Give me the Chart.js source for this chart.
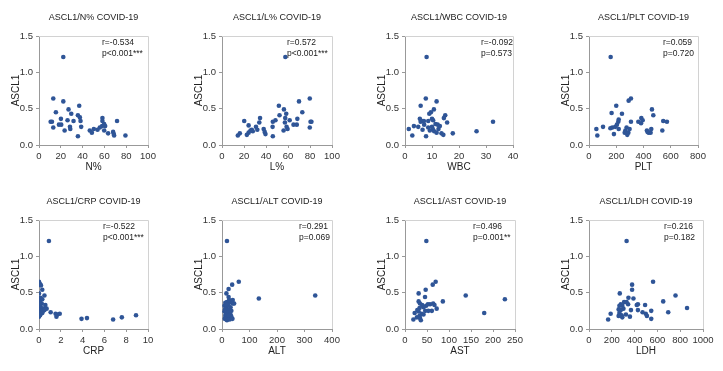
<!DOCTYPE html>
<html lang="en">
<head>
<meta charset="UTF-8">
<title>ASCL1 COVID-19 correlations</title>
<script src="https://cdn.jsdelivr.net/npm/chart.js"></script>
<style>
  body { margin: 0; background: #fff; }
  #wrap { position: relative; width: 723px; height: 371px; overflow: hidden; background: #fff; }
  #wrap canvas { position: absolute; }
</style>
</head>
<body>
<div id="wrap"></div>
<script>
// values, each point is [x, ASCL1]
const nPct = [[22.3,1.21],[13.1,0.64],[22.3,0.60],[36.9,0.54],[27.1,0.49],[15.5,0.45],[29.6,0.43],[35.7,0.41],
  [37.5,0.38],[20.1,0.36],[26.2,0.34],[31.7,0.33],[10.7,0.32],[11.9,0.32],[38.1,0.33],[18.3,0.28],[20.4,0.28],
  [28.4,0.25],[38.7,0.25],[13.1,0.24],[28.7,0.22],[23.5,0.20],[35.7,0.12],[58.2,0.37],[58.2,0.33],[71.6,0.33],
  [59.8,0.29],[60.7,0.26],[57.9,0.26],[55.8,0.24],[46.6,0.20],[50.3,0.22],[53.7,0.21],[48.5,0.17],[59.8,0.20],
  [63.4,0.16],[68.0,0.18],[68.6,0.15],[68.9,0.13],[79.3,0.13]];
const lPct = [[57.6,1.21],[79.8,0.64],[70,0.60],[51.7,0.54],[56.3,0.49],[73,0.45],[58.4,0.43],[52.3,0.41],
  [34.6,0.37],[57.5,0.37],[46.2,0.32],[48.6,0.34],[20.2,0.33],[61.5,0.34],[68.5,0.36],[33.9,0.31],[57.2,0.31],
  [81.3,0.32],[80.5,0.32],[24.2,0.27],[30.9,0.25],[46,0.25],[65,0.28],[68,0.28],[58.7,0.25],[59.6,0.22],
  [37.9,0.22],[27.1,0.21],[25.9,0.20],[32.1,0.21],[38.8,0.18],[24.2,0.17],[22.6,0.14],[39.5,0.15],[56,0.20],
  [46.2,0.12],[16.2,0.16],[14.4,0.13],[79.8,0.24],[28,0.19]];
const wbc = [[8.0,1.21],[7.7,0.64],[11.7,0.60],[5.8,0.54],[10.7,0.49],[9.6,0.45],[9.0,0.43],[14.9,0.41],
  [14.4,0.37],[10.0,0.36],[5.5,0.36],[6.3,0.33],[7.0,0.33],[8.6,0.33],[10.4,0.34],[15.6,0.31],[32.6,0.32],
  [11.3,0.29],[12.1,0.28],[3.3,0.26],[4.9,0.25],[8.6,0.24],[1.4,0.22],[10.3,0.22],[12.4,0.22],[6.5,0.21],
  [9.2,0.20],[10.8,0.19],[26.5,0.19],[11.7,0.17],[13.5,0.16],[17.7,0.16],[14.2,0.14],[2.7,0.13],[7.8,0.12],
  [12.9,0.26],[7.1,0.28],[10,0.25],[5.8,0.32]];
const plt = [[159,1.21],[308,0.64],[291,0.61],[200,0.54],[462,0.49],[166,0.44],[242,0.43],[472,0.41],
  [218,0.35],[308,0.32],[362,0.32],[384,0.37],[394,0.34],[382,0.30],[545,0.33],[572,0.32],[215,0.32],
  [205,0.28],[193,0.25],[171,0.24],[157,0.23],[103,0.25],[54,0.22],[61,0.13],[183,0.15],[267,0.20],
  [276,0.24],[289,0.17],[281,0.14],[298,0.22],[425,0.20],[438,0.17],[452,0.17],[457,0.22],[538,0.20],
  [430,0.18],[218,0.22],[262,0.17]];
const crp = [[0.91,1.21],[0.0,0.65],[0.1,0.62],[0.18,0.60],[0.3,0.54],[0.0,0.49],[0.5,0.46],[0.15,0.43],
  [0.3,0.41],[0.0,0.38],[0.1,0.37],[0.25,0.35],[0.03,0.33],[0.15,0.31],[0.0,0.30],[0.06,0.28],[0.2,0.27],
  [0.4,0.28],[0.7,0.28],[0.0,0.26],[0.18,0.25],[0.34,0.24],[0.5,0.26],[0.0,0.23],[0.3,0.22],[1.07,0.23],
  [1.52,0.21],[1.68,0.20],[1.9,0.21],[1.6,0.17],[0.0,0.17],[3.9,0.14],[4.4,0.15],[6.8,0.13],[7.6,0.16],
  [8.9,0.19],[0.1,0.19],[0.02,0.35],[0.58,0.33]];
const alt = [[18,1.21],[61,0.65],[37,0.61],[24,0.55],[16,0.49],[24,0.44],[134,0.42],[339,0.46],[40,0.35],
  [12,0.36],[18,0.37],[28,0.37],[37,0.36],[44,0.35],[9,0.32],[16,0.31],[23,0.33],[31,0.30],[11,0.27],
  [20,0.26],[28,0.27],[34,0.25],[9,0.24],[16,0.22],[23,0.23],[31,0.20],[12,0.18],[21,0.17],[28,0.16],
  [34,0.17],[10,0.14],[18,0.12],[28,0.13],[38,0.14],[14,0.20],[23,0.19],[15,0.34],[26,0.40],[39,0.40]];
const ast = [[48.5,1.21],[69.7,0.65],[63,0.61],[47,0.54],[31,0.49],[45.5,0.44],[138,0.46],[227,0.41],
  [86,0.38],[31,0.38],[180,0.22],[72,0.28],[34,0.35],[39,0.33],[57,0.34],[64,0.35],[67,0.33],[48,0.32],
  [33,0.29],[42,0.30],[53,0.25],[61,0.25],[46,0.25],[22,0.22],[31,0.24],[38,0.21],[33,0.18],[27,0.16],
  [34,0.15],[19,0.13],[36,0.12],[42,0.20],[28,0.26],[52,0.34]];
const ldh = [[330,1.21],[562,0.65],[378,0.61],[378,0.54],[270,0.49],[759,0.46],[390,0.42],[346,0.43],
  [651,0.38],[860,0.29],[695,0.23],[546,0.25],[492,0.33],[429,0.34],[419,0.33],[470,0.23],[498,0.21],
  [508,0.18],[546,0.14],[359,0.17],[368,0.26],[429,0.26],[279,0.34],[292,0.32],[308,0.37],[330,0.37],
  [343,0.34],[302,0.28],[279,0.26],[260,0.27],[267,0.22],[286,0.19],[292,0.16],[324,0.20],[190,0.21],
  [168,0.13],[267,0.32],[260,0.18]];

const panelData = [nPct, lPct, wbc, plt, crp, alt, ast, ldh];
const xNames = ['N%', 'L%', 'WBC', 'PLT', 'CRP', 'ALT', 'AST', 'LDH'];
const rTexts = ['r=-0.534', 'r=0.572', 'r=-0.092', 'r=0.059', 'r=-0.522', 'r=0.291', 'r=0.496', 'r=0.216'];
const pTexts = ['p<0.001***', 'p<0.001***', 'p=0.573', 'p=0.720', 'p<0.001***', 'p=0.069', 'p=0.001**', 'p=0.182'];
const xMax = [100, 100, 40, 800, 10, 400, 250, 1000];
const xStep = [20, 20, 10, 200, 2, 100, 50, 200];
const yMax = 1.5;
const yStep = 0.5;

// layout, page pixels: left/top of the plot box, its width, where the r/p text starts
const plotLeft = [39, 222, 405, 589, 39, 222, 405, 589];
const plotTop = [36, 36, 36, 36, 220, 220, 220, 220];
const plotWidth = [109, 110, 108, 109, 109, 110, 110, 114];
const statOffset = [63, 65, 76, 74, 64, 77, 68, 75];
const plotHeight = 109;
const yAxisWidth = 39;
const xAxisHeight = 35;
const rightPad = 16;

const FONT = '"Liberation Sans", Arial, sans-serif';
const DOT = '#2f5597';

// light frame on top/right plus the r and p values
const frameAndStats = {
    id: 'frameAndStats',
    beforeDatasetsDraw(chart, args, opts) {
        const a = chart.chartArea, ctx = chart.ctx;
        ctx.save();
        ctx.strokeStyle = '#d2d2d2';
        ctx.lineWidth = 1;
        ctx.beginPath();
        ctx.moveTo(a.left, Math.round(a.top) + 0.5);
        ctx.lineTo(Math.round(a.right) + 0.5, Math.round(a.top) + 0.5);
        ctx.lineTo(Math.round(a.right) + 0.5, a.bottom);
        ctx.stroke();
        ctx.restore();
    },
    afterDraw(chart, args, opts) {
        const a = chart.chartArea, ctx = chart.ctx;
        ctx.save();
        ctx.font = '8.5px ' + FONT;
        ctx.fillStyle = '#222';
        ctx.textAlign = 'left';
        ctx.textBaseline = 'middle';
        ctx.fillText(opts.r, a.left + opts.dx, a.top + 7);
        ctx.fillText(opts.p, a.left + opts.dx, a.top + 18);
        ctx.restore();
    }
};

const wrap = document.getElementById('wrap');

panelData.forEach((points, i) => {
    const canvas = document.createElement('canvas');
    const w = yAxisWidth + plotWidth[i] + rightPad;
    const h = 36 + plotHeight + xAxisHeight;
    canvas.width = w;
    canvas.height = h;
    canvas.style.left = (plotLeft[i] - yAxisWidth) + 'px';
    canvas.style.top = (plotTop[i] - 36) + 'px';
    canvas.style.width = w + 'px';
    canvas.style.height = h + 'px';
    wrap.appendChild(canvas);

    new Chart(canvas.getContext('2d'), {
        type: 'scatter',
        data: {
            datasets: [{
                data: points.map(p => ({ x: p[0], y: p[1] })),
                backgroundColor: DOT,
                borderWidth: 0,
                pointRadius: 2.3,
                pointHoverRadius: 2.3
            }]
        },
        options: {
            responsive: false,
            animation: false,
            devicePixelRatio: 1,
            layout: { padding: { left: 0, right: rightPad, top: 0, bottom: 0 } },
            plugins: {
                legend: { display: false },
                tooltip: { enabled: false },
                title: {
                    display: true,
                    text: 'ASCL1/' + xNames[i] + ' COVID-19',
                    fullSize: false,
                    color: '#222',
                    font: { family: FONT, size: 9, weight: 'normal' },
                    padding: { top: 12.6, bottom: 12.6 }
                },
                frameAndStats: { r: rTexts[i], p: pTexts[i], dx: statOffset[i] }
            },
            scales: {
                x: {
                    type: 'linear',
                    min: 0,
                    max: xMax[i],
                    afterFit: (axis) => { axis.height = xAxisHeight; },
                    ticks: {
                        stepSize: xStep[i],
                        autoSkip: false,
                        color: '#333',
                        padding: 3,
                        maxRotation: 0,
                        font: { family: FONT, size: 9.5 },
                        callback: (v) => String(v)
                    },
                    grid: { display: true, drawOnChartArea: false, drawTicks: true, tickLength: 3, color: '#999' },
                    border: { display: true, color: '#999' },
                    title: {
                        display: true,
                        text: xNames[i],
                        color: '#222',
                        font: { family: FONT, size: 10 },
                        padding: { top: 0, bottom: 7 }
                    }
                },
                y: {
                    min: 0,
                    max: yMax,
                    afterFit: (axis) => { axis.width = yAxisWidth; },
                    ticks: {
                        stepSize: yStep,
                        autoSkip: false,
                        color: '#333',
                        padding: 3,
                        font: { family: FONT, size: 9.5 },
                        callback: (v) => v.toFixed(1)
                    },
                    grid: { display: true, drawOnChartArea: false, drawTicks: true, tickLength: 3, color: '#999' },
                    border: { display: true, color: '#999' },
                    title: {
                        display: true,
                        text: 'ASCL1',
                        color: '#222',
                        font: { family: FONT, size: 10 },
                        padding: { top: 10, bottom: 0 }
                    }
                }
            }
        },
        plugins: [frameAndStats]
    });
});
</script>
</body>
</html>
